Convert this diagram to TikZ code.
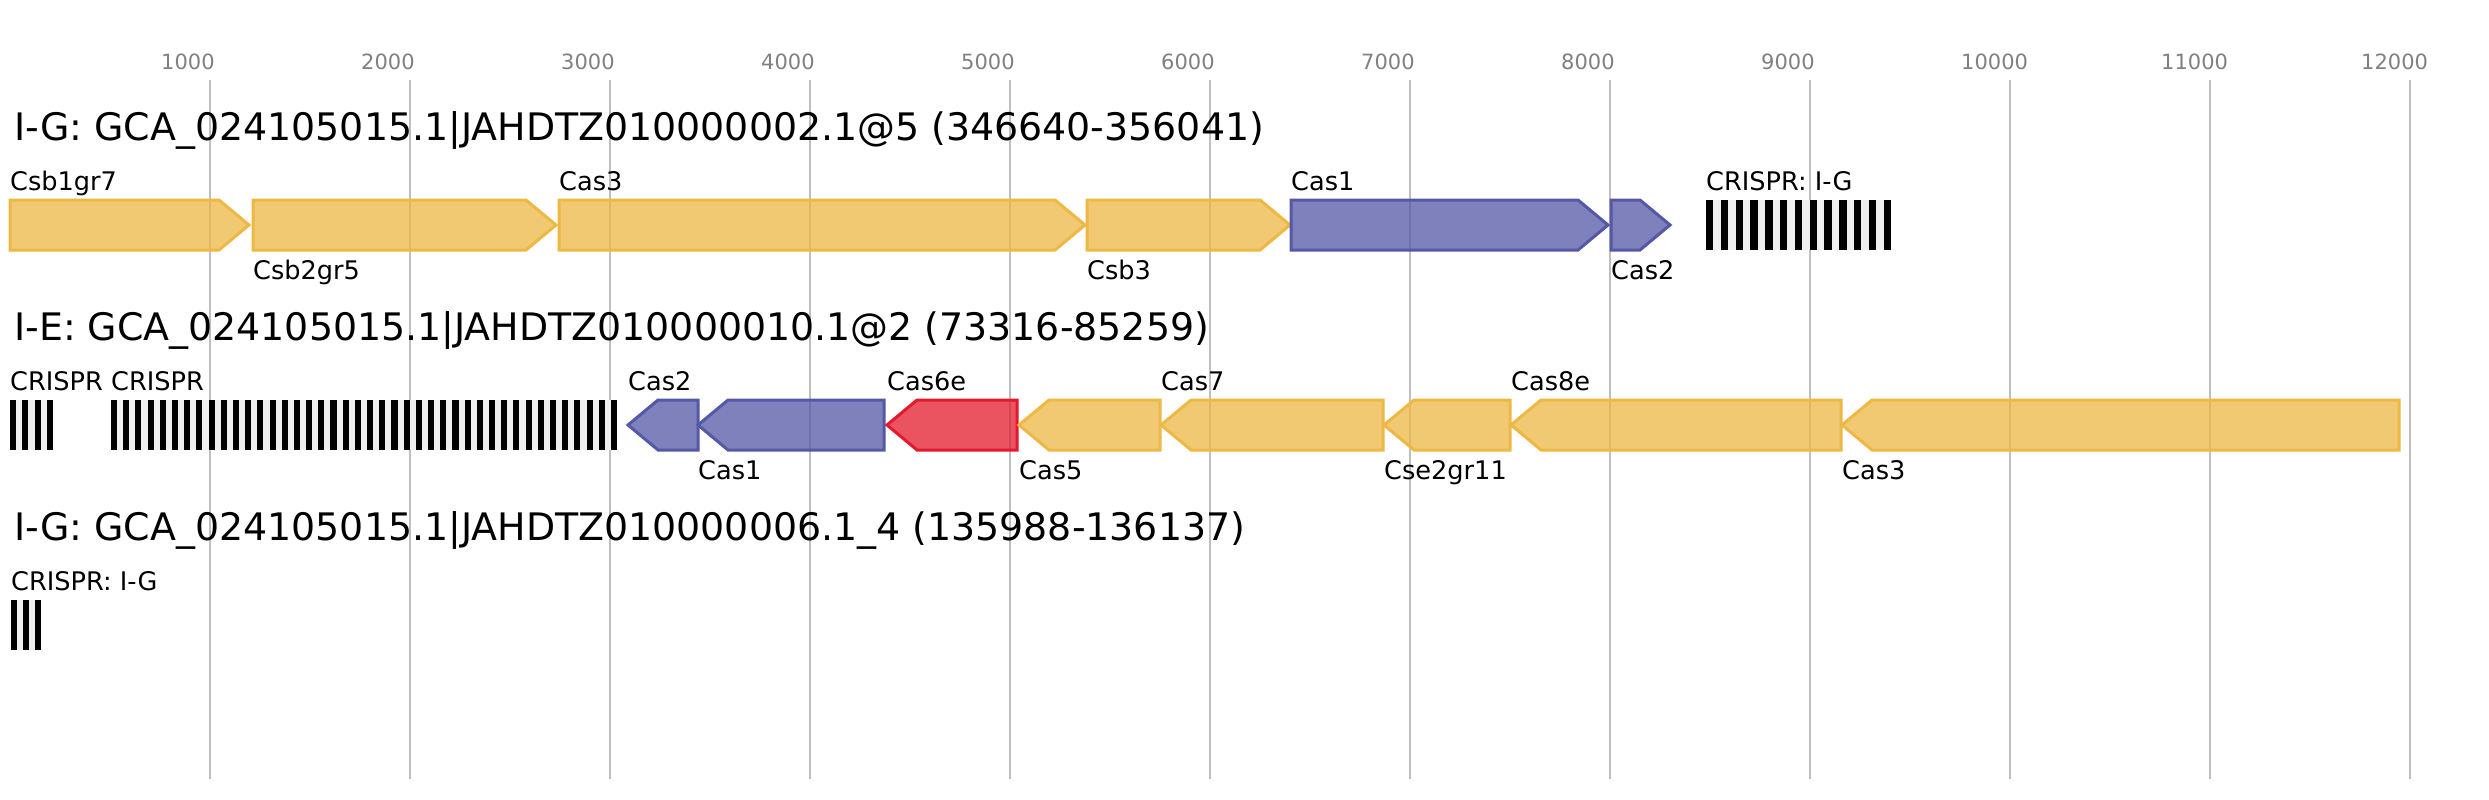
\documentclass[tikz,border=0pt]{standalone}
\usepackage{fontspec}
\setmainfont{DejaVu Sans}
\definecolor{casyellow}{HTML}{EDB843}
\definecolor{casblue}{HTML}{5558A6}
\definecolor{casred}{HTML}{E31A2C}
\definecolor{gridgray}{HTML}{BFBFBF}
\definecolor{tickgray}{HTML}{808080}
\definecolor{arraybg}{HTML}{EFEFEF}
\tikzset{
  gene/.style={draw=#1, fill=#1, fill opacity=0.75, line width=3pt},
  genelabel/.style={anchor=base west, inner sep=0pt, font=\fontsize{25.6}{30}\selectfont},
  tracktitle/.style={anchor=base west, inner sep=0pt, font=\fontsize{37.9}{45}\selectfont},
  ticklabel/.style={anchor=base west, inner sep=0pt, text=tickgray, font=\fontsize{21}{25}\selectfont},
  gridline/.style={draw=gridgray, line width=2pt},
}
\begin{document}
\begin{tikzpicture}[x=1pt,y=-1pt]
  \useasboundingbox[fill=white] (0,0) rectangle (2489,800);
  % ruler
  \foreach \k in {1,...,12}{
    \draw[gridline] (10+200*\k,80) -- (10+200*\k,779);
    \node[ticklabel] (T\k) at (200*\k-39,70) {\k000};
  }
  % track 1
  \begin{scope}
    \node[tracktitle] (title1) at (14,140) {I-G: GCA\_024105015.1|JAHDTZ010000002.1@5 (346640-356041)};
    \foreach \a/\b/\c/\t/\ly [count=\i] in {10/249/casyellow/Csb1gr7/190, 253/556/casyellow/Csb2gr5/279,
        559/1085/casyellow/Cas3/190, 1087/1290/casyellow/Csb3/279, 1291/1608/casblue/Cas1/190,
        1611/1670/casblue/Cas2/279}{
      \draw[gene=\c] (\a,200) -- (\b-30,200) -- (\b,225) -- (\b-30,250) -- (\a,250) -- cycle;
      \node[genelabel] (G1\i) at (\a,\ly) {\t};
    }
  \end{scope}
  % track 2
  \begin{scope}[shift={(0,200)}]
    \node[tracktitle] (title2) at (14,140) {I-E: GCA\_024105015.1|JAHDTZ010000010.1@2 (73316-85259)};
    \foreach \a/\b/\c/\t/\ly [count=\i] in {628/698/casblue/Cas2/190, 698/884/casblue/Cas1/279,
        887/1017/casred/Cas6e/190, 1019/1160/casyellow/Cas5/279, 1161/1383/casyellow/Cas7/190,
        1384/1510/casyellow/Cse2gr11/279, 1511/1841/casyellow/Cas8e/190, 1842/2399/casyellow/Cas3/279}{
      \draw[gene=\c] (\b,200) -- (\a+30,200) -- (\a,225) -- (\a+30,250) -- (\b,250) -- cycle;
      \node[genelabel] (G2\i) at (\a,\ly) {\t};
    }
  \end{scope}
  % track 3
  \begin{scope}[shift={(0,400)}]
    \node[tracktitle] (title3) at (14,140) {I-G: GCA\_024105015.1|JAHDTZ010000006.1\_4 (135988-136137)};
  \end{scope}
  % CRISPR arrays
  \foreach \ya/\xa/\xb/\n/\t/\nm in {0/1706/1891/13/{CRISPR: I-G}/A1, 200/10/53/4/CRISPR/A2,
      200/111/617/42/CRISPR/A3, 400/11/41/3/{CRISPR: I-G}/A4}{
    \pgfmathsetmacro\per{(\xb-\xa)/(\n-0.5)}
    \fill[arraybg] (\xa,\ya+200) rectangle (\xb,\ya+250);
    \foreach \j in {1,...,\n}
      \fill[black] ({\xa+(\j-1)*\per},\ya+200) rectangle ++(\per/2,50);
    \node[genelabel] (\nm) at (\xa,\ya+190) {\t};
  }
\end{tikzpicture}
\end{document}
